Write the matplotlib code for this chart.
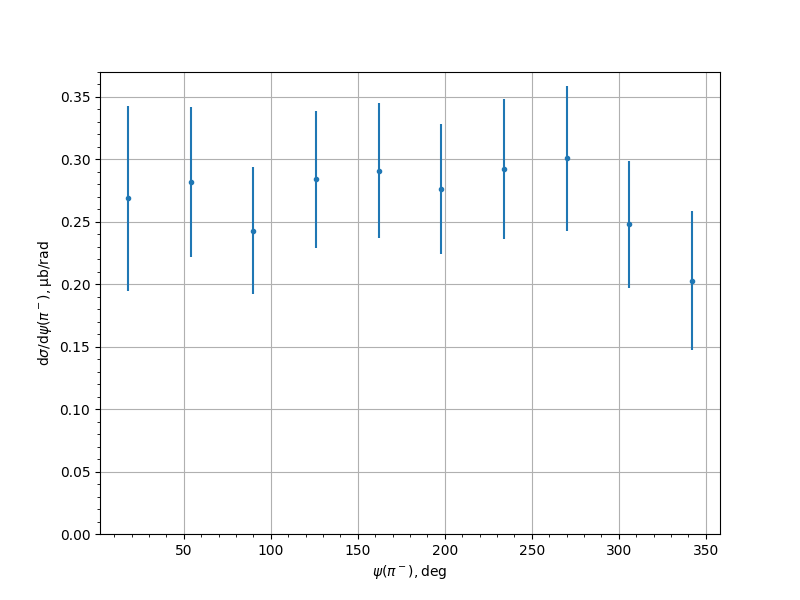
import matplotlib
matplotlib.use("Agg")
import matplotlib.pyplot as plt

psi = [18, 54, 90, 126, 162, 198, 234, 270, 306, 342]
xsec = [0.269, 0.282, 0.243, 0.284, 0.291, 0.276, 0.292, 0.301, 0.248, 0.203]
err = [0.074, 0.060, 0.051, 0.055, 0.054, 0.052, 0.056, 0.058, 0.051, 0.056]

fig, ax = plt.subplots(figsize=(8, 6), dpi=100)
ax.errorbar(psi, xsec, yerr=err, fmt='.')
ax.set_ylim(0, 0.37)
ax.minorticks_on()
ax.grid(True)
ax.set_xlabel(r'$\psi(\pi^-), \mathrm{deg}$')
ax.set_ylabel(r'$\mathrm{d}\sigma/\mathrm{d}\psi(\pi^-), \mathrm{\mu b/rad}$')
fig.savefig('out.png')
